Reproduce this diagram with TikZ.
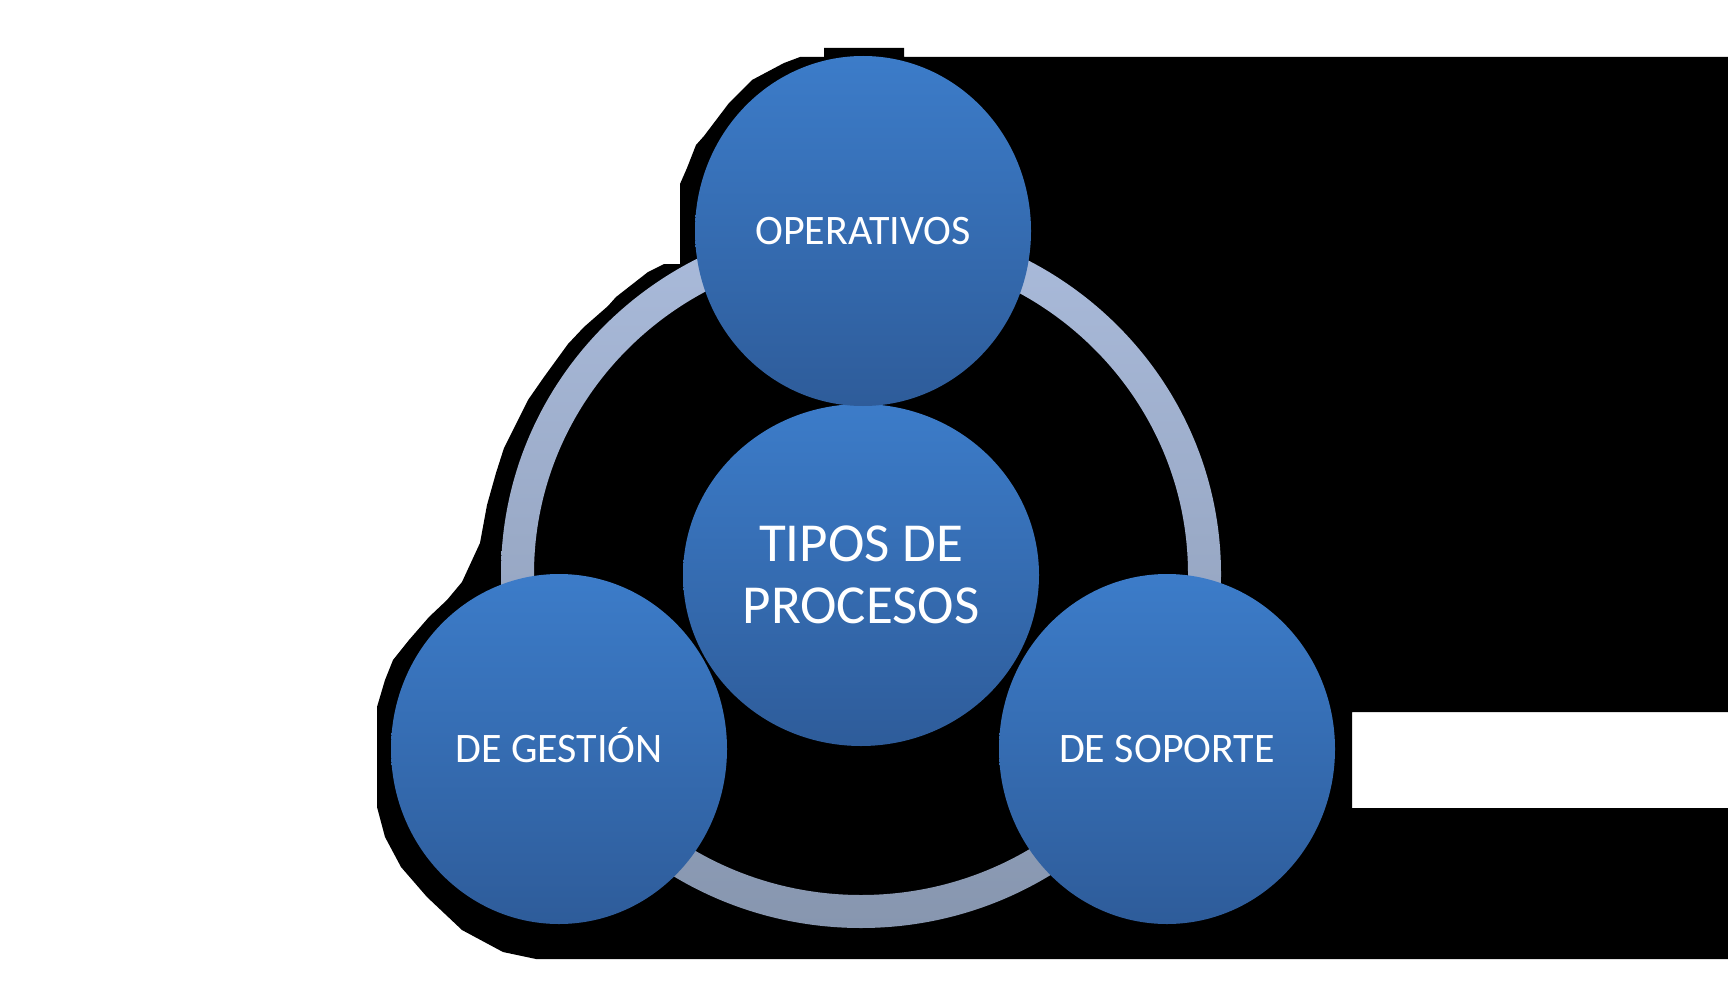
\documentclass[tikz,border=0pt]{standalone}
\usepackage{fontspec}
\setmainfont{Carlito}
\usetikzlibrary{shapes.geometric}

\definecolor{bluetop}{HTML}{3C7CC9}
\definecolor{bluebot}{HTML}{2E5C9A}
\definecolor{ringtop}{HTML}{AABBDB}
\definecolor{ringbot}{HTML}{8796AF}

\begin{document}
\begin{tikzpicture}[x=1pt, y=-1pt,
        proc/.style={ellipse, minimum width=336pt, minimum height=350pt, inner sep=0pt,
            top color=bluetop, bottom color=bluebot, text=white,
            text height=27pt, text depth=0pt,
            font=\fontsize{42}{50}\selectfont},
        hub/.style={proc, minimum width=356pt, minimum height=342pt, align=center,
            text height=, text depth=,
            font=\fontsize{55}{62}\selectfont}
    ]
    \useasboundingbox (0,0) rectangle (1728,1008);
    \fill[white] (0,0) rectangle (1728,1008);

    % black backdrop
    \fill[black] (824,48) -- (904,48) -- (904,57) -- (1728,57) -- (1728,712)
        -- (1352,712) -- (1352,808) -- (1728,808) -- (1728,959) -- (536,959)
        -- (503,952) -- (462,930) -- (427,897) -- (401,867) -- (385,837)
        -- (377,807) -- (377,707) -- (385,680) -- (393,660) -- (409,640)
        -- (429,617) -- (447,600) -- (462,582) -- (480,543) -- (487,505)
        -- (496,473) -- (504,448) -- (512,432) -- (528,400) -- (544,377)
        -- (568,344) -- (584,327) -- (608,306) -- (616,297) -- (648,272)
        -- (664,264) -- (680,264) -- (680,184) -- (687,168) -- (696,145)
        -- (704,136) -- (729,103) -- (752,80) -- (784,63) -- (800,57)
        -- (824,57) -- cycle;

    % ring
    \coordinate (ring) at (861,574);
    \shade[even odd rule, top color=ringtop, bottom color=ringbot]
        (ring) ellipse [x radius=360, y radius=354]
        (ring) ellipse [x radius=327, y radius=321];

    \node[hub] (tipos) at (861,575) {TIPOS DE\\PROCESOS};
    \node[proc] (oper) at (863,231) {OPERATIVOS};
    \node[proc] (gestion) at (559,749) {DE GESTIÓN};
    \node[proc] (soporte) at (1167,749) {DE SOPORTE};
\end{tikzpicture}
\end{document}
